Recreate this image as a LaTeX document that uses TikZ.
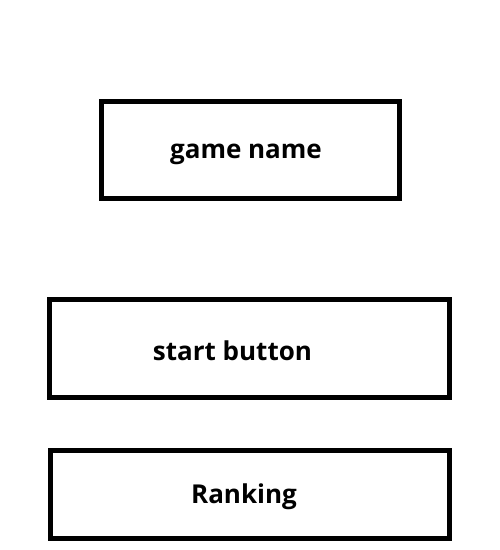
\documentclass[tikz,border=0pt]{standalone}
\usepackage{fontspec}
\setmainfont{Open Sans}
\begin{document}
\begin{tikzpicture}[x=1pt,y=-1pt,
  box/.style={draw=black,line width=4.5pt,fill=none},
  lbl/.style={font=\fontsize{26}{30}\selectfont\bfseries,anchor=base,inner sep=0pt}]
\useasboundingbox[fill=white] (0,0) rectangle (500,550);
\draw[box] (101.5,101.5) rectangle (399.5,198.5);
\draw[box] (49.5,299.5) rectangle (449.5,397.5);
\draw[box] (50.5,450.5) rectangle (449.5,538.5);
\node[lbl] (gn) at (246,158) {game name};
\node[lbl] (sb) at (232.5,360) {start button};
\node[lbl] (rk) at (244,503) {Ranking};
\end{tikzpicture}
\end{document}
